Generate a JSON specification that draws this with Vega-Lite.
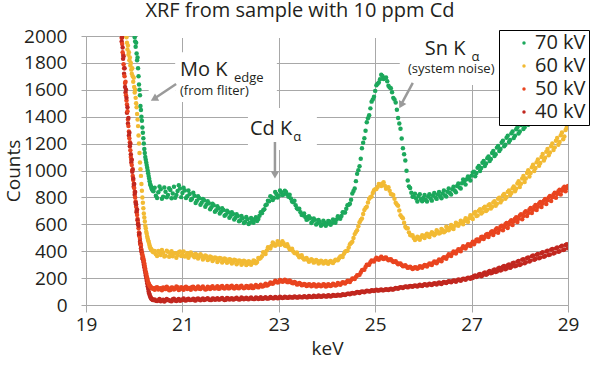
{
  "$schema": "https://vega.github.io/schema/vega-lite/v6.json",
  "autosize": "none",
  "width": 482,
  "height": 269,
  "padding": {"left": 86, "top": 36, "right": 32, "bottom": 68},
  "background": "white",
  "title": {"text": "XRF from sample with 10 ppm Cd", "fontSize": 20, "fontWeight": "normal", "font": "Open Sans", "color": "#231f20", "anchor": "middle", "dx": -27, "offset": 6},
  "config": {
    "view": {"stroke": null},
    "font": "Open Sans",
    "axis": {"gridColor": "#a8a8a8", "domainColor": "#a8a8a8", "tickColor": "#a8a8a8", "labelColor": "#231f20", "titleColor": "#231f20", "labelFontSize": 19, "titleFontSize": 19, "titleFontWeight": "normal", "labelFont": "Open Sans", "titleFont": "Open Sans"}
  },
  "datasets": {
    "series": [{"k": "a", "s": "70 kV"}, {"k": "b", "s": "60 kV"}, {"k": "c", "s": "50 kV"}, {"k": "d", "s": "40 kV"}],
    "boxes": [
      {"e": 20.85, "e2": 22.96, "v": 1510, "v2": 1880},
      {"e": 20.3, "e2": 20.85, "v": 1525, "v2": 1640},
      {"e": 22.36, "e2": 23.79, "v": 1152, "v2": 1465},
      {"e": 25.51, "e2": 27.6, "v": 1636, "v2": 1995},
      {"e": 20.08, "e2": 28.0, "v": 1985, "v2": 2030}
    ],
    "arrows": [
      {"n": "mo", "e": 20.87, "v": 1643, "e2": 20.42, "v2": 1535},
      {"n": "cd", "e": 22.92, "v": 1212, "e2": 22.92, "v2": 974},
      {"n": "sn", "e": 25.78, "v": 1651, "e2": 25.54, "v2": 1491}
    ],
    "heads": [
      {"n": "mo", "e": 20.41, "v": 1532},
      {"n": "cd", "e": 22.92, "v": 968},
      {"n": "sn", "e": 25.535, "v": 1486}
    ],
    "notes": [
      {"t": "Mo K", "e": 20.95, "v": 1703, "kind": "big"},
      {"t": "edge", "e": 22.07, "v": 1658, "kind": "sub"},
      {"t": "(from fliter)", "e": 20.95, "v": 1561, "kind": "note"},
      {"t": "Cd K", "e": 22.40, "v": 1264, "kind": "big"},
      {"t": "α", "e": 23.3, "v": 1219, "kind": "sub"},
      {"t": "Sn K", "e": 26.03, "v": 1859, "kind": "big"},
      {"t": "α", "e": 27.0, "v": 1814, "kind": "sub"},
      {"t": "(system noise)", "e": 25.68, "v": 1725, "kind": "note"}
    ],
    "xrf": [
      {"e": 19.74, "c": 1985, "d": 1960},
      {"e": 19.75, "c": 1940, "d": 1990},
      {"e": 19.76, "c": 1880, "d": 1915},
      {"e": 19.77, "c": 1860, "d": 1830},
      {"e": 19.78, "c": 1790, "d": 1850},
      {"e": 19.79, "c": 1760, "d": 1720},
      {"e": 19.80, "c": 1700, "d": 1760},
      {"e": 19.81, "c": 1650, "d": 1620},
      {"e": 19.82, "c": 1660, "d": 1580},
      {"e": 19.83, "c": 1560, "d": 1600},
      {"e": 19.84, "b": 1990, "c": 1520, "d": 1540},
      {"e": 19.85, "b": 1950, "c": 1490, "d": 1430},
      {"e": 19.86, "b": 1900, "c": 1440, "d": 1470},
      {"e": 19.87, "b": 1930, "c": 1380, "d": 1350},
      {"e": 19.88, "b": 1860, "c": 1330, "d": 1390},
      {"e": 19.89, "b": 1880, "c": 1290, "d": 1260},
      {"e": 19.90, "b": 1820, "c": 1240, "d": 1280},
      {"e": 19.91, "b": 1840, "c": 1210, "d": 1180},
      {"e": 19.92, "b": 1780, "c": 1150, "d": 1200},
      {"e": 19.93, "b": 1800, "c": 1100, "d": 1120},
      {"e": 19.94, "b": 1750, "c": 1080, "d": 1060},
      {"e": 19.95, "b": 1720, "c": 1040, "d": 1080},
      {"e": 19.96, "b": 1760, "c": 1000, "d": 990},
      {"e": 19.97, "b": 1700, "c": 960, "d": 1010},
      {"e": 19.98, "b": 1660, "c": 930, "d": 940},
      {"e": 19.99, "b": 1690, "c": 900, "d": 880},
      {"e": 20.00, "b": 1620, "c": 870, "d": 900},
      {"e": 20.01, "a": 1990, "b": 1580, "c": 840, "d": 820},
      {"e": 20.02, "a": 1960, "b": 1600, "c": 800, "d": 840},
      {"e": 20.03, "a": 1920, "b": 1540, "c": 770, "d": 760},
      {"e": 20.04, "a": 1950, "b": 1500, "c": 730, "d": 750},
      {"e": 20.05, "a": 1870, "b": 1470, "c": 700, "d": 690},
      {"e": 20.06, "a": 1820, "b": 1420, "c": 670, "d": 710},
      {"e": 20.07, "a": 1840, "b": 1380, "c": 640, "d": 630},
      {"e": 20.08, "a": 1760, "b": 1330, "c": 610, "d": 600},
      {"e": 20.09, "a": 1700, "b": 1260, "c": 570, "d": 590},
      {"e": 20.10, "a": 1640, "b": 1200, "c": 540, "d": 520},
      {"e": 20.11, "a": 1600, "b": 1130, "c": 510, "d": 530},
      {"e": 20.12, "a": 1560, "b": 1060, "c": 490, "d": 470},
      {"e": 20.13, "a": 1480, "b": 1010, "c": 460, "d": 450},
      {"e": 20.14, "a": 1450, "b": 960, "c": 440, "d": 420},
      {"e": 20.15, "a": 1400, "b": 900, "c": 410, "d": 400},
      {"e": 20.16, "a": 1370, "b": 850, "c": 390, "d": 380},
      {"e": 20.17, "a": 1320, "b": 800, "c": 375, "d": 350},
      {"e": 20.18, "a": 1280, "b": 760, "c": 360, "d": 340},
      {"e": 20.19, "a": 1240, "b": 720, "c": 345, "d": 320},
      {"e": 20.20, "a": 1200, "b": 680, "c": 330, "d": 300},
      {"e": 20.21, "a": 1160, "b": 650, "c": 310, "d": 280},
      {"e": 20.22, "a": 1130, "b": 620, "c": 290, "d": 260},
      {"e": 20.23, "a": 1100, "b": 590, "c": 270, "d": 240},
      {"e": 20.24, "a": 1080, "b": 570, "c": 250, "d": 220},
      {"e": 20.25, "a": 1060, "b": 545, "c": 235, "d": 200},
      {"e": 20.26, "a": 1040, "b": 530, "c": 215, "d": 180},
      {"e": 20.27, "a": 1020, "b": 510, "c": 200, "d": 160},
      {"e": 20.28, "a": 1000, "b": 495, "c": 185, "d": 140},
      {"e": 20.29, "a": 980, "b": 480, "c": 170, "d": 120},
      {"e": 20.30, "a": 960, "b": 470, "c": 160, "d": 100},
      {"e": 20.31, "a": 940, "b": 455, "c": 150, "d": 88},
      {"e": 20.32, "a": 920, "b": 440, "c": 145, "d": 75},
      {"e": 20.33, "a": 900, "b": 430, "c": 140, "d": 66},
      {"e": 20.34, "a": 890, "b": 420, "c": 135, "d": 58},
      {"e": 20.35, "a": 880, "b": 415, "c": 130, "d": 50},
      {"e": 20.36, "a": 870, "b": 410, "c": 128, "d": 45},
      {"e": 20.37, "a": 860, "b": 405, "c": 125, "d": 42},
      {"e": 20.38, "a": 855, "b": 400, "c": 124, "d": 40},
      {"e": 20.39, "a": 850, "b": 395, "c": 122, "d": 38},
      {"e": 20.40, "a": 845, "b": 392, "c": 121, "d": 37},
      {"e": 20.425, "a": 872, "b": 401, "c": 114, "d": 41},
      {"e": 20.45, "a": 812, "b": 378, "c": 128, "d": 32},
      {"e": 20.475, "a": 795, "b": 364, "c": 133, "d": 29},
      {"e": 20.50, "a": 838, "b": 401, "c": 115, "d": 35},
      {"e": 20.525, "a": 881, "b": 390, "c": 122, "d": 44},
      {"e": 20.55, "a": 860, "b": 372, "c": 124, "d": 28},
      {"e": 20.575, "a": 790, "b": 409, "c": 109, "d": 33},
      {"e": 20.60, "a": 805, "b": 389, "c": 131, "d": 40},
      {"e": 20.625, "a": 874, "b": 360, "c": 127, "d": 26},
      {"e": 20.65, "a": 842, "b": 366, "c": 118, "d": 33},
      {"e": 20.675, "a": 801, "b": 404, "c": 136, "d": 45},
      {"e": 20.70, "a": 818, "b": 395, "c": 126, "d": 38},
      {"e": 20.725, "a": 868, "b": 358, "c": 110, "d": 36},
      {"e": 20.75, "a": 855, "b": 380, "c": 112, "d": 30},
      {"e": 20.775, "a": 793, "b": 399, "c": 130, "d": 27},
      {"e": 20.80, "a": 829, "b": 362, "c": 129, "d": 42},
      {"e": 20.825, "a": 879, "b": 383, "c": 116, "d": 47},
      {"e": 20.85, "a": 798, "b": 384, "c": 121, "d": 34},
      {"e": 20.875, "a": 818, "b": 352, "c": 137, "d": 30},
      {"e": 20.90, "a": 847, "b": 371, "c": 133, "d": 39},
      {"e": 20.925, "a": 890, "b": 393, "c": 111, "d": 44},
      {"e": 20.95, "a": 866, "b": 397, "c": 117, "d": 31},
      {"e": 20.975, "a": 802, "b": 365, "c": 132, "d": 35},
      {"e": 21.00, "a": 832, "b": 376, "c": 125, "d": 41},
      {"e": 21.025, "a": 871, "b": 398, "c": 114, "d": 48},
      {"e": 21.05, "a": 851, "b": 360, "c": 130, "d": 36},
      {"e": 21.075, "a": 795, "b": 367, "c": 136, "d": 33},
      {"e": 21.10, "a": 808, "b": 385, "c": 119, "d": 43},
      {"e": 21.125, "a": 852, "b": 352, "c": 126, "d": 46},
      {"e": 21.15, "a": 826, "b": 368, "c": 127, "d": 37},
      {"e": 21.175, "a": 781, "b": 390, "c": 113, "d": 38},
      {"e": 21.20, "a": 790, "b": 377, "c": 134, "d": 40},
      {"e": 21.225, "a": 834, "b": 366, "c": 135, "d": 47},
      {"e": 21.25, "a": 812, "b": 355, "c": 122, "d": 35},
      {"e": 21.275, "a": 758, "b": 380, "c": 117, "d": 33},
      {"e": 21.30, "a": 775, "b": 371, "c": 128, "d": 44},
      {"e": 21.325, "a": 808, "b": 345, "c": 137, "d": 49},
      {"e": 21.35, "a": 794, "b": 358, "c": 120, "d": 39},
      {"e": 21.375, "a": 745, "b": 377, "c": 119, "d": 36},
      {"e": 21.40, "a": 760, "b": 366, "c": 131, "d": 42},
      {"e": 21.425, "a": 789, "b": 339, "c": 138, "d": 48},
      {"e": 21.45, "a": 778, "b": 349, "c": 125, "d": 37},
      {"e": 21.475, "a": 731, "b": 368, "c": 115, "d": 41},
      {"e": 21.50, "a": 748, "b": 362, "c": 118, "d": 45},
      {"e": 21.525, "a": 772, "b": 334, "c": 136, "d": 50},
      {"e": 21.55, "a": 757, "b": 341, "c": 129, "d": 41},
      {"e": 21.575, "a": 712, "b": 360, "c": 119, "d": 37},
      {"e": 21.60, "a": 726, "b": 355, "c": 133, "d": 38},
      {"e": 21.625, "a": 752, "b": 327, "c": 139, "d": 49},
      {"e": 21.65, "a": 741, "b": 338, "c": 124, "d": 46},
      {"e": 21.675, "a": 694, "b": 354, "c": 122, "d": 39},
      {"e": 21.70, "a": 705, "b": 349, "c": 130, "d": 43},
      {"e": 21.725, "a": 734, "b": 319, "c": 140, "d": 51},
      {"e": 21.75, "a": 720, "b": 330, "c": 121, "d": 40},
      {"e": 21.775, "a": 680, "b": 350, "c": 123, "d": 40},
      {"e": 21.80, "a": 693, "b": 346, "c": 136, "d": 47},
      {"e": 21.825, "a": 719, "b": 316, "c": 142, "d": 52},
      {"e": 21.85, "a": 706, "b": 327, "c": 127, "d": 42},
      {"e": 21.875, "a": 664, "b": 345, "c": 122, "d": 38},
      {"e": 21.90, "a": 672, "b": 340, "c": 132, "d": 39},
      {"e": 21.925, "a": 701, "b": 314, "c": 141, "d": 53},
      {"e": 21.95, "a": 690, "b": 321, "c": 125, "d": 48},
      {"e": 21.975, "a": 648, "b": 340, "c": 124, "d": 40},
      {"e": 22.00, "a": 661, "b": 337, "c": 138, "d": 44},
      {"e": 22.025, "a": 690, "b": 309, "c": 143, "d": 51},
      {"e": 22.05, "a": 676, "b": 318, "c": 129, "d": 41},
      {"e": 22.075, "a": 636, "b": 336, "c": 123, "d": 42},
      {"e": 22.10, "a": 648, "b": 332, "c": 134, "d": 49},
      {"e": 22.125, "a": 674, "b": 303, "c": 142, "d": 54},
      {"e": 22.15, "a": 662, "b": 314, "c": 126, "d": 45},
      {"e": 22.175, "a": 623, "b": 331, "c": 125, "d": 41},
      {"e": 22.20, "a": 630, "b": 327, "c": 137, "d": 43},
      {"e": 22.225, "a": 661, "b": 299, "c": 144, "d": 55},
      {"e": 22.25, "a": 645, "b": 309, "c": 131, "d": 50},
      {"e": 22.275, "a": 610, "b": 330, "c": 124, "d": 43},
      {"e": 22.30, "a": 618, "b": 324, "c": 128, "d": 46},
      {"e": 22.325, "a": 655, "b": 298, "c": 141, "d": 54},
      {"e": 22.35, "a": 637, "b": 305, "c": 139, "d": 44},
      {"e": 22.375, "a": 603, "b": 326, "c": 127, "d": 42},
      {"e": 22.40, "a": 612, "b": 319, "c": 133, "d": 51},
      {"e": 22.425, "a": 647, "b": 300, "c": 145, "d": 56},
      {"e": 22.45, "a": 629, "b": 312, "c": 127, "d": 47},
      {"e": 22.475, "a": 611, "b": 331, "c": 126, "d": 44},
      {"e": 22.50, "a": 638, "b": 328, "c": 140, "d": 45},
      {"e": 22.525, "a": 652, "b": 311, "c": 148, "d": 55},
      {"e": 22.55, "a": 625, "b": 320, "c": 135, "d": 52},
      {"e": 22.575, "a": 640, "b": 350, "c": 131, "d": 45},
      {"e": 22.60, "a": 664, "b": 344, "c": 142, "d": 48},
      {"e": 22.625, "a": 689, "b": 351, "c": 150, "d": 57},
      {"e": 22.65, "a": 683, "b": 362, "c": 138, "d": 46},
      {"e": 22.675, "a": 704, "b": 392, "c": 140, "d": 47},
      {"e": 22.70, "a": 712, "b": 388, "c": 147, "d": 53},
      {"e": 22.725, "a": 741, "b": 379, "c": 158, "d": 58},
      {"e": 22.75, "a": 748, "b": 405, "c": 144, "d": 49},
      {"e": 22.775, "a": 775, "b": 430, "c": 149, "d": 48},
      {"e": 22.80, "a": 771, "b": 428, "c": 156, "d": 51},
      {"e": 22.825, "a": 808, "b": 420, "c": 167, "d": 59},
      {"e": 22.85, "a": 802, "b": 441, "c": 162, "d": 54},
      {"e": 22.875, "a": 781, "b": 465, "c": 158, "d": 50},
      {"e": 22.90, "a": 795, "b": 455, "c": 168, "d": 50},
      {"e": 22.925, "a": 840, "b": 440, "c": 180, "d": 60},
      {"e": 22.95, "a": 826, "b": 448, "c": 175, "d": 56},
      {"e": 22.975, "a": 800, "b": 475, "c": 167, "d": 51},
      {"e": 23.00, "a": 812, "b": 466, "c": 171, "d": 52},
      {"e": 23.025, "a": 852, "b": 447, "c": 186, "d": 61},
      {"e": 23.05, "a": 838, "b": 452, "c": 180, "d": 55},
      {"e": 23.075, "a": 817, "b": 474, "c": 172, "d": 52},
      {"e": 23.10, "a": 821, "b": 460, "c": 176, "d": 53},
      {"e": 23.125, "a": 850, "b": 443, "c": 187, "d": 62},
      {"e": 23.15, "a": 840, "b": 438, "c": 182, "d": 57},
      {"e": 23.175, "a": 822, "b": 452, "c": 170, "d": 53},
      {"e": 23.20, "a": 805, "b": 431, "c": 170, "d": 54},
      {"e": 23.225, "a": 819, "b": 415, "c": 183, "d": 62},
      {"e": 23.25, "a": 792, "b": 412, "c": 174, "d": 58},
      {"e": 23.275, "a": 770, "b": 418, "c": 163, "d": 55},
      {"e": 23.30, "a": 764, "b": 398, "c": 162, "d": 55},
      {"e": 23.325, "a": 776, "b": 386, "c": 171, "d": 63},
      {"e": 23.35, "a": 741, "b": 385, "c": 166, "d": 59},
      {"e": 23.375, "a": 720, "b": 391, "c": 152, "d": 55},
      {"e": 23.40, "a": 712, "b": 370, "c": 154, "d": 56},
      {"e": 23.425, "a": 716, "b": 355, "c": 164, "d": 64},
      {"e": 23.45, "a": 690, "b": 362, "c": 158, "d": 60},
      {"e": 23.475, "a": 670, "b": 370, "c": 146, "d": 57},
      {"e": 23.50, "a": 668, "b": 349, "c": 148, "d": 57},
      {"e": 23.525, "a": 680, "b": 338, "c": 157, "d": 65},
      {"e": 23.55, "a": 655, "b": 342, "c": 152, "d": 61},
      {"e": 23.575, "a": 633, "b": 350, "c": 141, "d": 58},
      {"e": 23.60, "a": 637, "b": 336, "c": 145, "d": 58},
      {"e": 23.625, "a": 660, "b": 322, "c": 155, "d": 67},
      {"e": 23.65, "a": 646, "b": 328, "c": 150, "d": 62},
      {"e": 23.675, "a": 610, "b": 340, "c": 139, "d": 60},
      {"e": 23.70, "a": 621, "b": 333, "c": 143, "d": 60},
      {"e": 23.725, "a": 644, "b": 315, "c": 154, "d": 68},
      {"e": 23.75, "a": 633, "b": 321, "c": 149, "d": 64},
      {"e": 23.775, "a": 598, "b": 334, "c": 138, "d": 61},
      {"e": 23.80, "a": 607, "b": 327, "c": 141, "d": 61},
      {"e": 23.825, "a": 632, "b": 309, "c": 153, "d": 70},
      {"e": 23.85, "a": 618, "b": 316, "c": 147, "d": 65},
      {"e": 23.875, "a": 590, "b": 330, "c": 139, "d": 62},
      {"e": 23.90, "a": 598, "b": 324, "c": 144, "d": 63},
      {"e": 23.925, "a": 627, "b": 308, "c": 155, "d": 71},
      {"e": 23.95, "a": 612, "b": 318, "c": 150, "d": 67},
      {"e": 23.975, "a": 589, "b": 327, "c": 138, "d": 63},
      {"e": 24.00, "a": 603, "b": 313, "c": 142, "d": 64},
      {"e": 24.025, "a": 625, "b": 306, "c": 154, "d": 73},
      {"e": 24.05, "a": 620, "b": 322, "c": 148, "d": 68},
      {"e": 24.075, "a": 596, "b": 328, "c": 141, "d": 64},
      {"e": 24.10, "a": 608, "b": 317, "c": 146, "d": 66},
      {"e": 24.125, "a": 635, "b": 312, "c": 158, "d": 74},
      {"e": 24.15, "a": 624, "b": 326, "c": 153, "d": 70},
      {"e": 24.175, "a": 611, "b": 336, "c": 145, "d": 68},
      {"e": 24.20, "a": 635, "b": 335, "c": 149, "d": 69},
      {"e": 24.225, "a": 660, "b": 332, "c": 163, "d": 76},
      {"e": 24.25, "a": 648, "b": 348, "c": 157, "d": 73},
      {"e": 24.275, "a": 641, "b": 360, "c": 151, "d": 70},
      {"e": 24.30, "a": 662, "b": 362, "c": 160, "d": 72},
      {"e": 24.325, "a": 690, "b": 356, "c": 170, "d": 80},
      {"e": 24.35, "a": 688, "b": 380, "c": 166, "d": 77},
      {"e": 24.375, "a": 688, "b": 396, "c": 160, "d": 74},
      {"e": 24.40, "a": 716, "b": 402, "c": 170, "d": 79},
      {"e": 24.425, "a": 742, "b": 403, "c": 180, "d": 84},
      {"e": 24.45, "a": 745, "b": 428, "c": 178, "d": 83},
      {"e": 24.475, "a": 752, "b": 451, "c": 171, "d": 79},
      {"e": 24.50, "a": 782, "b": 461, "c": 185, "d": 85},
      {"e": 24.525, "a": 829, "b": 470, "c": 198, "d": 90},
      {"e": 24.55, "a": 848, "b": 498, "c": 196, "d": 88},
      {"e": 24.575, "a": 867, "b": 527, "c": 193, "d": 85},
      {"e": 24.60, "a": 921, "b": 542, "c": 208, "d": 91},
      {"e": 24.625, "a": 975, "b": 555, "c": 222, "d": 96},
      {"e": 24.65, "a": 1002, "b": 585, "c": 222, "d": 94},
      {"e": 24.675, "a": 1032, "b": 616, "c": 224, "d": 90},
      {"e": 24.70, "a": 1088, "b": 632, "c": 241, "d": 96},
      {"e": 24.725, "a": 1165, "b": 643, "c": 258, "d": 101},
      {"e": 24.75, "a": 1207, "b": 676, "c": 262, "d": 99},
      {"e": 24.775, "a": 1240, "b": 706, "c": 262, "d": 95},
      {"e": 24.80, "a": 1296, "b": 721, "c": 283, "d": 101},
      {"e": 24.825, "a": 1358, "b": 730, "c": 300, "d": 106},
      {"e": 24.85, "a": 1388, "b": 762, "c": 300, "d": 104},
      {"e": 24.875, "a": 1410, "b": 790, "c": 299, "d": 100},
      {"e": 24.90, "a": 1462, "b": 801, "c": 318, "d": 103},
      {"e": 24.925, "a": 1512, "b": 806, "c": 331, "d": 110},
      {"e": 24.95, "a": 1528, "b": 832, "c": 327, "d": 107},
      {"e": 24.975, "a": 1548, "b": 853, "c": 323, "d": 104},
      {"e": 25.00, "a": 1592, "b": 861, "c": 338, "d": 109},
      {"e": 25.025, "a": 1634, "b": 862, "c": 352, "d": 113},
      {"e": 25.05, "a": 1645, "b": 878, "c": 343, "d": 108},
      {"e": 25.075, "a": 1655, "b": 899, "c": 336, "d": 107},
      {"e": 25.10, "a": 1678, "b": 896, "c": 350, "d": 112},
      {"e": 25.125, "a": 1712, "b": 885, "c": 358, "d": 116},
      {"e": 25.15, "a": 1702, "b": 904, "c": 346, "d": 110},
      {"e": 25.175, "a": 1680, "b": 912, "c": 342, "d": 110},
      {"e": 25.20, "a": 1688, "b": 887, "c": 352, "d": 114},
      {"e": 25.225, "a": 1692, "b": 865, "c": 353, "d": 118},
      {"e": 25.25, "a": 1664, "b": 872, "c": 341, "d": 113},
      {"e": 25.275, "a": 1630, "b": 875, "c": 333, "d": 112},
      {"e": 25.30, "a": 1618, "b": 850, "c": 338, "d": 117},
      {"e": 25.325, "a": 1612, "b": 826, "c": 340, "d": 121},
      {"e": 25.35, "a": 1582, "b": 822, "c": 329, "d": 116},
      {"e": 25.375, "a": 1540, "b": 818, "c": 320, "d": 115},
      {"e": 25.40, "a": 1528, "b": 790, "c": 322, "d": 120},
      {"e": 25.425, "a": 1505, "b": 760, "c": 326, "d": 126},
      {"e": 25.45, "a": 1452, "b": 748, "c": 314, "d": 124},
      {"e": 25.475, "a": 1390, "b": 738, "c": 303, "d": 121},
      {"e": 25.50, "a": 1350, "b": 703, "c": 306, "d": 128},
      {"e": 25.525, "a": 1310, "b": 668, "c": 309, "d": 133},
      {"e": 25.55, "a": 1238, "b": 655, "c": 298, "d": 131},
      {"e": 25.575, "a": 1165, "b": 645, "c": 288, "d": 127},
      {"e": 25.60, "a": 1121, "b": 612, "c": 290, "d": 133},
      {"e": 25.625, "a": 1075, "b": 582, "c": 295, "d": 138},
      {"e": 25.65, "a": 998, "b": 571, "c": 286, "d": 136},
      {"e": 25.675, "a": 925, "b": 570, "c": 276, "d": 131},
      {"e": 25.70, "a": 882, "b": 540, "c": 281, "d": 138},
      {"e": 25.725, "a": 870, "b": 520, "c": 285, "d": 142},
      {"e": 25.75, "a": 834, "b": 516, "c": 277, "d": 140},
      {"e": 25.775, "a": 805, "b": 518, "c": 268, "d": 135},
      {"e": 25.80, "a": 806, "b": 498, "c": 273, "d": 142},
      {"e": 25.825, "a": 828, "b": 483, "c": 280, "d": 146},
      {"e": 25.85, "a": 792, "b": 492, "c": 279, "d": 141},
      {"e": 25.875, "a": 770, "b": 508, "c": 270, "d": 138},
      {"e": 25.90, "a": 810, "b": 496, "c": 276, "d": 145},
      {"e": 25.925, "a": 824, "b": 485, "c": 289, "d": 150},
      {"e": 25.95, "a": 786, "b": 503, "c": 284, "d": 144},
      {"e": 25.975, "a": 772, "b": 519, "c": 277, "d": 141},
      {"e": 26.00, "a": 798, "b": 509, "c": 288, "d": 148},
      {"e": 26.025, "a": 818, "b": 498, "c": 297, "d": 154},
      {"e": 26.05, "a": 781, "b": 518, "c": 294, "d": 150},
      {"e": 26.075, "a": 770, "b": 530, "c": 286, "d": 145},
      {"e": 26.10, "a": 806, "b": 512, "c": 299, "d": 153},
      {"e": 26.125, "a": 824, "b": 506, "c": 309, "d": 158},
      {"e": 26.15, "a": 792, "b": 527, "c": 305, "d": 152},
      {"e": 26.175, "a": 776, "b": 541, "c": 297, "d": 149},
      {"e": 26.20, "a": 815, "b": 534, "c": 312, "d": 156},
      {"e": 26.225, "a": 832, "b": 518, "c": 323, "d": 162},
      {"e": 26.25, "a": 799, "b": 529, "c": 319, "d": 158},
      {"e": 26.275, "a": 789, "b": 556, "c": 311, "d": 152},
      {"e": 26.30, "a": 822, "b": 545, "c": 326, "d": 161},
      {"e": 26.325, "a": 841, "b": 531, "c": 339, "d": 167},
      {"e": 26.35, "a": 808, "b": 538, "c": 333, "d": 160},
      {"e": 26.375, "a": 794, "b": 566, "c": 325, "d": 156},
      {"e": 26.40, "a": 829, "b": 556, "c": 345, "d": 165},
      {"e": 26.425, "a": 851, "b": 540, "c": 356, "d": 172},
      {"e": 26.45, "a": 815, "b": 549, "c": 352, "d": 168},
      {"e": 26.475, "a": 806, "b": 581, "c": 343, "d": 163},
      {"e": 26.50, "a": 842, "b": 568, "c": 363, "d": 171},
      {"e": 26.525, "a": 866, "b": 556, "c": 378, "d": 176},
      {"e": 26.55, "a": 833, "b": 577, "c": 372, "d": 174},
      {"e": 26.575, "a": 822, "b": 595, "c": 364, "d": 169},
      {"e": 26.60, "a": 861, "b": 571, "c": 384, "d": 176},
      {"e": 26.625, "a": 880, "b": 565, "c": 398, "d": 182},
      {"e": 26.65, "a": 852, "b": 589, "c": 392, "d": 180},
      {"e": 26.675, "a": 838, "b": 612, "c": 383, "d": 173},
      {"e": 26.70, "a": 884, "b": 598, "c": 401, "d": 183},
      {"e": 26.725, "a": 903, "b": 590, "c": 414, "d": 189},
      {"e": 26.75, "a": 873, "b": 605, "c": 410, "d": 186},
      {"e": 26.775, "a": 866, "b": 626, "c": 400, "d": 181},
      {"e": 26.80, "a": 906, "b": 612, "c": 421, "d": 190},
      {"e": 26.825, "a": 934, "b": 601, "c": 436, "d": 196},
      {"e": 26.85, "a": 918, "b": 624, "c": 428, "d": 193},
      {"e": 26.875, "a": 895, "b": 645, "c": 420, "d": 187},
      {"e": 26.90, "a": 935, "b": 631, "c": 437, "d": 197},
      {"e": 26.925, "a": 956, "b": 618, "c": 452, "d": 203},
      {"e": 26.95, "a": 944, "b": 645, "c": 448, "d": 201},
      {"e": 26.975, "a": 925, "b": 668, "c": 438, "d": 195},
      {"e": 27.00, "a": 962, "b": 652, "c": 456, "d": 206},
      {"e": 27.025, "a": 985, "b": 640, "c": 470, "d": 200},
      {"e": 27.05, "a": 991, "b": 681, "c": 452, "d": 215},
      {"e": 27.075, "a": 958, "b": 692, "c": 470, "d": 220},
      {"e": 27.10, "a": 981, "b": 662, "c": 486, "d": 208},
      {"e": 27.125, "a": 1020, "b": 665, "c": 488, "d": 213},
      {"e": 27.15, "a": 1034, "b": 701, "c": 473, "d": 226},
      {"e": 27.175, "a": 996, "b": 712, "c": 488, "d": 231},
      {"e": 27.20, "a": 1018, "b": 680, "c": 505, "d": 214},
      {"e": 27.225, "a": 1058, "b": 690, "c": 508, "d": 220},
      {"e": 27.25, "a": 1071, "b": 722, "c": 490, "d": 236},
      {"e": 27.275, "a": 1034, "b": 730, "c": 505, "d": 241},
      {"e": 27.30, "a": 1052, "b": 698, "c": 522, "d": 225},
      {"e": 27.325, "a": 1092, "b": 708, "c": 528, "d": 230},
      {"e": 27.35, "a": 1104, "b": 741, "c": 505, "d": 247},
      {"e": 27.375, "a": 1070, "b": 750, "c": 525, "d": 252},
      {"e": 27.40, "a": 1086, "b": 718, "c": 541, "d": 236},
      {"e": 27.425, "a": 1130, "b": 730, "c": 549, "d": 240},
      {"e": 27.45, "a": 1145, "b": 762, "c": 520, "d": 259},
      {"e": 27.475, "a": 1108, "b": 772, "c": 540, "d": 264},
      {"e": 27.50, "a": 1120, "b": 738, "c": 561, "d": 245},
      {"e": 27.525, "a": 1170, "b": 752, "c": 570, "d": 250},
      {"e": 27.55, "a": 1182, "b": 790, "c": 538, "d": 272},
      {"e": 27.575, "a": 1145, "b": 798, "c": 560, "d": 277},
      {"e": 27.60, "a": 1160, "b": 763, "c": 581, "d": 256},
      {"e": 27.625, "a": 1208, "b": 778, "c": 590, "d": 262},
      {"e": 27.65, "a": 1221, "b": 815, "c": 556, "d": 284},
      {"e": 27.675, "a": 1180, "b": 826, "c": 580, "d": 290},
      {"e": 27.70, "a": 1192, "b": 790, "c": 601, "d": 266},
      {"e": 27.725, "a": 1244, "b": 803, "c": 610, "d": 272},
      {"e": 27.75, "a": 1258, "b": 841, "c": 573, "d": 296},
      {"e": 27.775, "a": 1212, "b": 852, "c": 598, "d": 301},
      {"e": 27.80, "a": 1226, "b": 818, "c": 620, "d": 276},
      {"e": 27.825, "a": 1276, "b": 832, "c": 630, "d": 284},
      {"e": 27.85, "a": 1290, "b": 867, "c": 595, "d": 310},
      {"e": 27.875, "a": 1242, "b": 882, "c": 620, "d": 314},
      {"e": 27.90, "a": 1259, "b": 845, "c": 642, "d": 288},
      {"e": 27.925, "a": 1307, "b": 864, "c": 652, "d": 292},
      {"e": 27.95, "a": 1322, "b": 903, "c": 617, "d": 322},
      {"e": 27.975, "a": 1275, "b": 920, "c": 642, "d": 328},
      {"e": 28.00, "a": 1290, "b": 878, "c": 666, "d": 298},
      {"e": 28.025, "a": 1338, "b": 902, "c": 675, "d": 304},
      {"e": 28.05, "a": 1351, "b": 941, "c": 638, "d": 336},
      {"e": 28.075, "a": 1308, "b": 960, "c": 662, "d": 341},
      {"e": 28.10, "a": 1322, "b": 915, "c": 688, "d": 311},
      {"e": 28.125, "a": 1370, "b": 940, "c": 698, "d": 318},
      {"e": 28.15, "a": 1384, "b": 982, "c": 661, "d": 349},
      {"e": 28.175, "a": 1340, "b": 1002, "c": 684, "d": 354},
      {"e": 28.20, "a": 1352, "b": 955, "c": 710, "d": 323},
      {"e": 28.225, "a": 1402, "b": 982, "c": 721, "d": 330},
      {"e": 28.25, "a": 1415, "b": 1024, "c": 684, "d": 362},
      {"e": 28.275, "a": 1371, "b": 1042, "c": 708, "d": 368},
      {"e": 28.30, "a": 1386, "b": 996, "c": 731, "d": 336},
      {"e": 28.325, "a": 1436, "b": 1018, "c": 744, "d": 342},
      {"e": 28.35, "a": 1449, "b": 1062, "c": 706, "d": 374},
      {"e": 28.375, "a": 1404, "b": 1082, "c": 731, "d": 380},
      {"e": 28.40, "a": 1420, "b": 1035, "c": 754, "d": 347},
      {"e": 28.425, "a": 1470, "b": 1056, "c": 766, "d": 353},
      {"e": 28.45, "a": 1482, "b": 1101, "c": 729, "d": 386},
      {"e": 28.475, "a": 1438, "b": 1122, "c": 754, "d": 392},
      {"e": 28.50, "a": 1455, "b": 1074, "c": 776, "d": 359},
      {"e": 28.525, "a": 1503, "b": 1094, "c": 788, "d": 364},
      {"e": 28.55, "a": 1518, "b": 1140, "c": 751, "d": 398},
      {"e": 28.575, "a": 1472, "b": 1160, "c": 778, "d": 404},
      {"e": 28.60, "a": 1489, "b": 1113, "c": 799, "d": 371},
      {"e": 28.625, "a": 1538, "b": 1134, "c": 811, "d": 376},
      {"e": 28.65, "a": 1552, "b": 1180, "c": 774, "d": 410},
      {"e": 28.675, "a": 1506, "b": 1200, "c": 802, "d": 416},
      {"e": 28.70, "a": 1524, "b": 1152, "c": 822, "d": 383},
      {"e": 28.725, "a": 1572, "b": 1172, "c": 834, "d": 388},
      {"e": 28.75, "a": 1588, "b": 1221, "c": 797, "d": 421},
      {"e": 28.775, "a": 1542, "b": 1242, "c": 826, "d": 428},
      {"e": 28.80, "a": 1560, "b": 1192, "c": 846, "d": 396},
      {"e": 28.825, "a": 1608, "b": 1212, "c": 857, "d": 400},
      {"e": 28.85, "a": 1624, "b": 1262, "c": 821, "d": 434},
      {"e": 28.875, "a": 1578, "b": 1283, "c": 850, "d": 440},
      {"e": 28.90, "a": 1596, "b": 1233, "c": 868, "d": 408},
      {"e": 28.925, "a": 1645, "b": 1252, "c": 880, "d": 412},
      {"e": 28.95, "a": 1660, "b": 1301, "c": 845, "d": 446},
      {"e": 28.975, "a": 1614, "b": 1322, "c": 870, "d": 452},
      {"e": 29.00, "a": 1632, "b": 1318, "c": 884, "d": 422}
    ]
  },
  "encoding": {
    "x": {"field": "e", "type": "quantitative", "title": "keV",
      "scale": {"domain": [19, 29], "nice": false, "zero": false},
      "axis": {"values": [19, 21, 23, 25, 27, 29], "grid": true, "tickSize": 7, "labelPadding": 3, "titlePadding": 5, "labelFlush": false, "format": "d"}},
    "y": {"field": "v", "type": "quantitative", "title": "Counts",
      "scale": {"domain": [0, 2000], "nice": false},
      "axis": {"values": [0, 200, 400, 600, 800, 1000, 1200, 1400, 1600, 1800, 2000], "grid": true, "tickSize": 5, "labelPadding": 14, "titlePadding": 0, "format": "d"}}
  },
  "layer": [
    {
      "data": {"name": "boxes"},
      "mark": {"type": "rect", "fill": "white", "clip": false},
      "encoding": {"x2": {"field": "e2"}, "y2": {"field": "v2"}}
    },
    {
      "data": {"name": "xrf"},
      "transform": [
        {"fold": ["a", "b", "c", "d"], "as": ["k", "v"]},
        {"filter": "isValid(datum.v)"},
        {"lookup": "k", "from": {"data": {"name": "series"}, "key": "k", "fields": ["s"]}}
      ],
      "mark": {"type": "circle", "size": 20, "opacity": 1, "clip": true},
      "encoding": {
        "color": {"field": "s", "type": "nominal",
          "scale": {"domain": ["70 kV", "60 kV", "50 kV", "40 kV"], "range": ["#1ca85c", "#f2ba33", "#e9441f", "#c1271f"]},
          "legend": {"title": null, "orient": "none", "legendX": 413, "legendY": -6, "strokeColor": "black", "fillColor": "white", "padding": 3, "labelFontSize": 20, "labelFont": "Open Sans", "labelColor": "#231f20", "symbolSize": 12, "symbolType": "circle", "symbolOffset": 12, "labelOffset": 1, "rowPadding": 3, "labelExpr": "datum.label + '  '"}
        }
      }
    },
    {
      "data": {"name": "arrows"},
      "mark": {"type": "rule", "color": "#9a9a9a", "strokeWidth": 2.5},
      "encoding": {"x2": {"field": "e2"}, "y2": {"field": "v2"}}
    },
    {
      "data": {"name": "heads"},
      "transform": [{"filter": "datum.n == 'mo'"}],
      "mark": {"type": "point", "shape": "triangle-up", "angle": 240, "filled": true, "size": 70, "color": "#9a9a9a", "opacity": 1},
      "encoding": {}
    },
    {
      "data": {"name": "heads"},
      "transform": [{"filter": "datum.n == 'cd'"}],
      "mark": {"type": "point", "shape": "triangle-up", "angle": 180, "filled": true, "size": 70, "color": "#9a9a9a", "opacity": 1},
      "encoding": {}
    },
    {
      "data": {"name": "heads"},
      "transform": [{"filter": "datum.n == 'sn'"}],
      "mark": {"type": "point", "shape": "triangle-up", "angle": 208, "filled": true, "size": 70, "color": "#9a9a9a", "opacity": 1},
      "encoding": {}
    },
    {
      "data": {"name": "notes"},
      "transform": [{"filter": "datum.kind == 'big'"}],
      "mark": {"type": "text", "align": "left", "baseline": "alphabetic", "fontSize": 20, "font": "Open Sans", "color": "#231f20"},
      "encoding": {"text": {"field": "t"}}
    },
    {
      "data": {"name": "notes"},
      "transform": [{"filter": "datum.kind == 'sub'"}],
      "mark": {"type": "text", "align": "left", "baseline": "alphabetic", "fontSize": 13, "font": "Open Sans", "color": "#231f20"},
      "encoding": {"text": {"field": "t"}}
    },
    {
      "data": {"name": "notes"},
      "transform": [{"filter": "datum.kind == 'note'"}],
      "mark": {"type": "text", "align": "left", "baseline": "alphabetic", "fontSize": 13, "font": "Open Sans", "color": "#231f20"},
      "encoding": {"text": {"field": "t"}}
    }
  ]
}
